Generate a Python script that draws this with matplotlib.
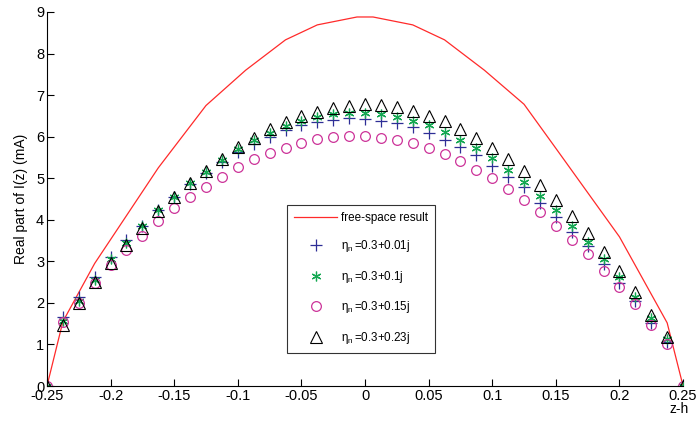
import numpy as np
import matplotlib
matplotlib.use("Agg")
import matplotlib.pyplot as plt

plt.rcParams['font.family'] = ['Liberation Sans', 'DejaVu Sans']
plt.rcParams['mathtext.fontset'] = 'custom'
plt.rcParams['mathtext.rm'] = 'Liberation Sans'
plt.rcParams['mathtext.it'] = 'Liberation Sans'

# free-space solution (piecewise linear)
z_free = [-0.25, -0.2375, -0.2125, -0.1625, -0.125, -0.0938, -0.0625, -0.0375, -0.0063,
          0.0063, 0.0375, 0.0625, 0.0938, 0.125, 0.15, 0.2, 0.2375, 0.25]
i_free = [0, 1.55, 2.95, 5.25, 6.75, 7.60, 8.33, 8.69, 8.88,
          8.88, 8.69, 8.33, 7.60, 6.78, 5.72, 3.59, 1.52, 0]

# segment positions, 41 samples along the wire
z = np.linspace(-0.25, 0.25, 41)

i_001 = [0, 1.66, 2.14, 2.62, 3.10, 3.51, 3.85, 4.23, 4.55, 4.86, 5.12, 5.38, 5.62, 5.83,
         5.99, 6.16, 6.28, 6.35, 6.40, 6.45, 6.42,
         6.38, 6.33, 6.23, 6.09, 5.92, 5.75, 5.56, 5.29, 5.03, 4.79, 4.40, 4.07, 3.71,
         3.37, 2.94, 2.48, 2.05, 1.52, 1.06, 0]
i_01 = [0, 1.56, 2.05, 2.55, 3.06, 3.44, 3.85, 4.23, 4.55, 4.88, 5.15, 5.43, 5.70, 5.92,
        6.09, 6.26, 6.38, 6.47, 6.54, 6.57, 6.57,
        6.54, 6.47, 6.38, 6.28, 6.11, 5.92, 5.73, 5.49, 5.20, 4.91, 4.57, 4.23, 3.85,
        3.46, 3.05, 2.62, 2.14, 1.64, 1.13, 0]
i_015 = [0, 1.54, 2.00, 2.47, 2.91, 3.27, 3.61, 3.97, 4.28, 4.55, 4.80, 5.03, 5.27, 5.46,
         5.60, 5.73, 5.85, 5.94, 5.99, 6.02, 6.02,
         5.97, 5.92, 5.85, 5.73, 5.58, 5.41, 5.20, 5.00, 4.74, 4.48, 4.19, 3.85, 3.51,
         3.18, 2.77, 2.38, 1.97, 1.47, 1.01, 0]
i_023 = [0, 1.47, 2.00, 2.50, 2.96, 3.39, 3.80, 4.20, 4.55, 4.88, 5.18, 5.46, 5.75, 5.97,
         6.18, 6.35, 6.50, 6.59, 6.69, 6.74, 6.78,
         6.76, 6.71, 6.62, 6.50, 6.38, 6.18, 5.97, 5.73, 5.46, 5.17, 4.84, 4.48, 4.09,
         3.68, 3.22, 2.77, 2.27, 1.71, 1.18, 0]

labels = ['free-space result', r'$\mathregular{\eta_{n}}\,$=0.3+0.01j',
          r'$\mathregular{\eta_{n}}\,$=0.3+0.1j', r'$\mathregular{\eta_{n}}\,$=0.3+0.15j',
          r'$\mathregular{\eta_{n}}\,$=0.3+0.23j']

fig = plt.figure(figsize=(6.99, 4.21), dpi=100)
ax = fig.add_axes([0.0672, 0.0831, 0.9100, 0.8884])

ax.plot(z_free, i_free, color='#ff2a2a', lw=0.9, label=labels[0])
ax.plot(z, i_001, ls='none', marker='+', ms=8, mew=0.9, color='#2e2e96', label=labels[1])
ax.plot(z, i_01, ls='none', marker=(6, 2, 0), ms=7, mew=0.9, color='#14a852', label=labels[2])
ax.plot(z, i_015, ls='none', marker='o', ms=7, mew=0.9, mfc='none', color='#cc3399', label=labels[3])
ax.plot(z, i_023, ls='none', marker='^', ms=8.5, mew=0.8, mfc='none', color='black', label=labels[4])

ax.set_xlim(-0.25, 0.25)
ax.set_ylim(0, 9)
ax.set_xticks(np.arange(-0.25, 0.251, 0.05))
ax.set_xticklabels(['-0.25', '-0.2', '-0.15', '-0.1', '-0.05', '0', '0.05', '0.1', '0.15', '0.2', '0.25'])
ax.set_yticks(range(0, 10))
ax.tick_params(direction='in', length=5, width=0.8, labelsize=10.5, pad=2)
ax.spines['top'].set_visible(False)
ax.spines['right'].set_visible(False)
for s in ('left', 'bottom'):
    ax.spines[s].set_linewidth(0.8)

ax.set_ylabel('Real part of I(z) (mA)', fontsize=10, labelpad=6)
fig.text(0.985, 0.012, 'z-h', fontsize=10, ha='right', va='bottom')

leg = ax.legend(loc='lower left', bbox_to_anchor=(0.4106, 0.1615), bbox_transform=fig.transFigure,
                fontsize=8.4, frameon=True, fancybox=False, edgecolor='black',
                handlelength=3.7, labelspacing=1.25, borderpad=0.6, handletextpad=0.3,
                borderaxespad=0)
leg.get_frame().set_linewidth(0.8)

fig.savefig('out.png', dpi=100)
